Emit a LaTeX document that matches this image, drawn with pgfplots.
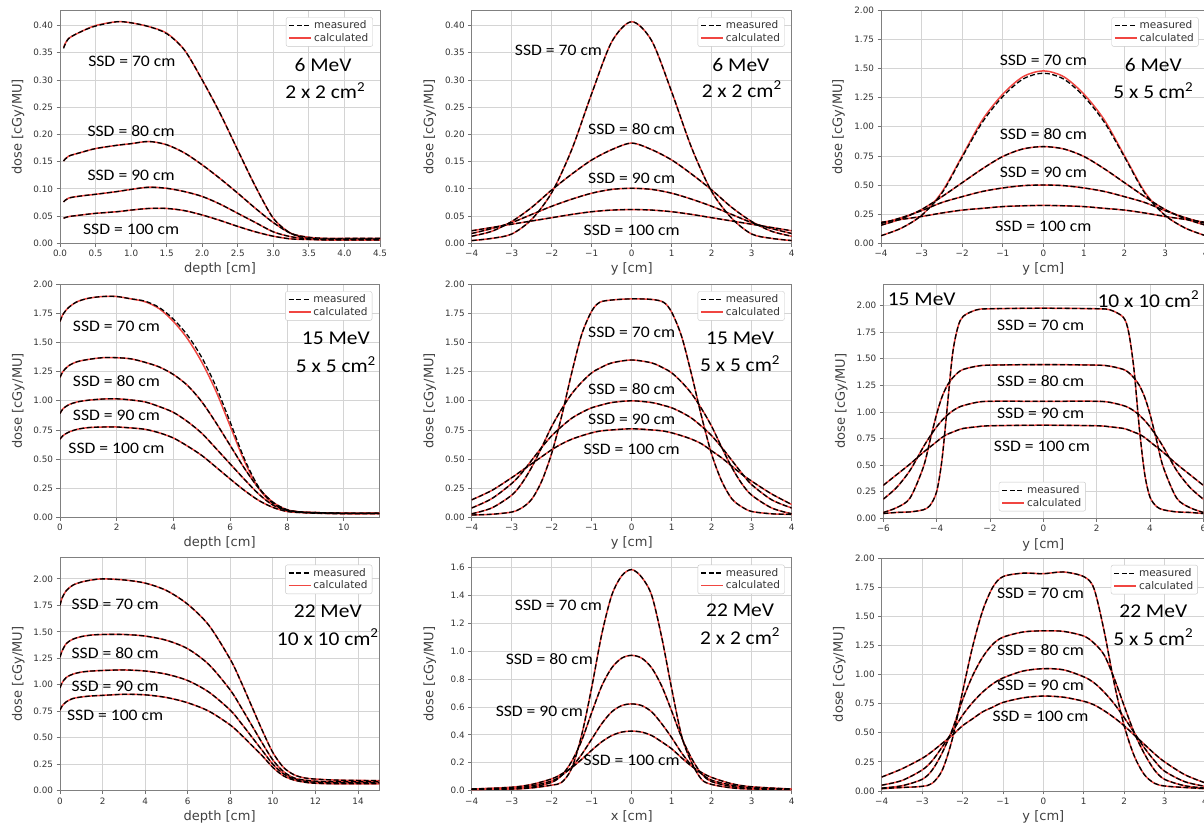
\documentclass[border=0pt]{standalone}
\usepackage{fontspec}
\setmainfont{Carlito}[FakeStretch=1.1]
\newfontfamily\dejavu{DejaVu Sans}
\usepackage{pgfplots}
\usepackage{pgfplotstable}
\pgfplotsset{compat=1.18}

\definecolor{calc}{RGB}{240,70,65}

\newcommand{\ssd}{\fontsize{16}{18}\selectfont}
\newcommand{\mev}{\fontsize{19.5}{22}\selectfont}
\newcommand{\lab}{\dejavu\fontsize{13}{15}\selectfont}
\newcommand{\sq}{\textsuperscript{2}}

% columns: x, measured SSD70, calculated SSD70, SSD80, SSD90, SSD100
\pgfplotstableread{
x s70 c70 s80 s90 s100
0.05 0.358 0.360 0.151 0.076 0.046
0.12 0.376 0.376 0.160 0.083 0.049
0.3 0.389 0.389 0.167 0.087 0.052
0.5 0.399 0.400 0.174 0.090 0.055
0.8 0.407 0.407 0.180 0.095 0.058
1.0 0.405 0.405 0.183 0.099 0.061
1.25 0.398 0.398 0.187 0.103 0.064
1.5 0.385 0.386 0.181 0.101 0.064
1.75 0.355 0.355 0.166 0.095 0.060
2.0 0.300 0.300 0.144 0.086 0.052
2.25 0.239 0.239 0.119 0.072 0.042
2.5 0.171 0.171 0.092 0.055 0.031
2.75 0.104 0.104 0.064 0.038 0.021
3.0 0.046 0.046 0.038 0.021 0.013
3.25 0.018 0.018 0.018 0.012 0.008
3.5 0.009 0.009 0.011 0.008 0.007
3.75 0.008 0.008 0.009 0.007 0.006
4.0 0.008 0.008 0.009 0.007 0.006
4.5 0.008 0.008 0.009 0.007 0.006
}\depthA

\pgfplotstableread{
x s70 c70 s80 s90 s100
-4 0.005 0.005 0.013 0.018 0.023
-3.5 0.009 0.009 0.022 0.027 0.029
-3 0.017 0.017 0.040 0.038 0.035
-2.5 0.044 0.044 0.066 0.053 0.041
-2 0.093 0.093 0.098 0.068 0.047
-1.5 0.172 0.172 0.127 0.081 0.053
-1 0.275 0.275 0.153 0.092 0.058
-0.5 0.370 0.370 0.172 0.099 0.061
0 0.407 0.407 0.184 0.101 0.062
0.5 0.372 0.372 0.172 0.099 0.061
1 0.278 0.278 0.153 0.092 0.058
1.5 0.175 0.175 0.127 0.081 0.053
2 0.095 0.095 0.098 0.068 0.047
2.5 0.046 0.046 0.066 0.053 0.041
3 0.017 0.017 0.040 0.038 0.035
3.5 0.009 0.009 0.022 0.027 0.029
4 0.005 0.005 0.013 0.018 0.023
}\profA

\pgfplotstableread{
x s70 c70 s80 s90 s100
-4 0.065 0.065 0.155 0.17 0.18
-3.5 0.13 0.13 0.21 0.22 0.205
-3 0.24 0.24 0.29 0.28 0.23
-2.5 0.43 0.44 0.40 0.35 0.26
-2 0.74 0.75 0.52 0.40 0.285
-1.5 1.04 1.06 0.64 0.445 0.30
-1 1.26 1.28 0.745 0.475 0.315
-0.5 1.41 1.43 0.81 0.495 0.322
0 1.46 1.48 0.83 0.50 0.325
0.5 1.41 1.43 0.81 0.495 0.322
1 1.26 1.28 0.745 0.475 0.315
1.5 1.04 1.06 0.64 0.445 0.30
2 0.74 0.75 0.52 0.40 0.285
2.5 0.43 0.44 0.40 0.35 0.26
3 0.24 0.24 0.29 0.28 0.23
3.5 0.13 0.13 0.21 0.22 0.205
4 0.065 0.065 0.155 0.17 0.18
}\profB

\pgfplotstableread{
x s70 c70 s80 s90 s100
0 1.68 1.68 1.20 0.89 0.67
0.1 1.74 1.74 1.25 0.93 0.70
0.3 1.80 1.80 1.30 0.965 0.73
0.6 1.85 1.85 1.335 0.99 0.755
1 1.88 1.88 1.355 1.005 0.77
1.5 1.895 1.895 1.37 1.015 0.775
2 1.895 1.895 1.37 1.017 0.775
2.5 1.875 1.875 1.36 1.007 0.767
3 1.855 1.85 1.33 0.99 0.755
3.5 1.80 1.79 1.29 0.95 0.725
4 1.70 1.68 1.225 0.90 0.68
4.5 1.56 1.53 1.13 0.82 0.61
5 1.37 1.33 0.99 0.72 0.53
5.5 1.12 1.08 0.81 0.59 0.43
6 0.815 0.78 0.615 0.457 0.328
6.5 0.50 0.48 0.42 0.325 0.23
7 0.26 0.25 0.25 0.20 0.145
7.5 0.12 0.115 0.13 0.105 0.085
8 0.06 0.06 0.065 0.06 0.05
8.5 0.045 0.045 0.045 0.045 0.04
9 0.04 0.04 0.04 0.04 0.035
10 0.035 0.035 0.035 0.035 0.03
11.25 0.035 0.035 0.035 0.035 0.03
}\depthB

\pgfplotstableread{
x s70 c70 s80 s90 s100
-4 0.02 0.02 0.03 0.08 0.15
-3.5 0.026 0.026 0.08 0.16 0.23
-3 0.045 0.045 0.19 0.29 0.34
-2.75 0.08 0.08 0.29 0.38 0.40
-2.5 0.155 0.155 0.43 0.49 0.46
-2.25 0.31 0.31 0.60 0.60 0.52
-2 0.55 0.55 0.78 0.70 0.58
-1.75 0.87 0.87 0.93 0.78 0.63
-1.5 1.24 1.24 1.06 0.85 0.67
-1.25 1.57 1.57 1.16 0.90 0.70
-1 1.77 1.77 1.24 0.94 0.725
-0.8 1.845 1.845 1.28 0.96 0.74
-0.5 1.865 1.865 1.325 0.985 0.75
0 1.875 1.875 1.35 1.00 0.76
0.5 1.87 1.87 1.325 0.985 0.75
0.8 1.845 1.845 1.28 0.96 0.74
1 1.76 1.76 1.24 0.94 0.725
1.25 1.55 1.55 1.16 0.90 0.70
1.5 1.22 1.22 1.06 0.85 0.67
1.75 0.86 0.86 0.93 0.78 0.63
2 0.54 0.54 0.78 0.70 0.57
2.25 0.31 0.31 0.60 0.60 0.51
2.5 0.16 0.16 0.43 0.49 0.44
2.75 0.09 0.09 0.29 0.38 0.37
3 0.05 0.05 0.19 0.28 0.31
3.5 0.03 0.03 0.08 0.15 0.20
4 0.025 0.025 0.03 0.08 0.11
}\profC

\pgfplotstableread{
x s70 c70 s80 s90 s100
-6 0.045 0.045 0.055 0.18 0.31
-5.5 0.055 0.055 0.10 0.29 0.41
-5 0.06 0.06 0.19 0.45 0.51
-4.5 0.08 0.08 0.48 0.67 0.62
-4.25 0.12 0.12 0.73 0.77 0.67
-4 0.25 0.25 0.98 0.86 0.72
-3.8 0.55 0.55 1.14 0.92 0.76
-3.6 1.05 1.05 1.25 0.97 0.79
-3.4 1.55 1.55 1.32 1.01 0.81
-3.2 1.80 1.80 1.37 1.04 0.83
-3 1.90 1.90 1.40 1.06 0.845
-2.5 1.96 1.96 1.43 1.09 0.86
-2 1.97 1.97 1.44 1.10 0.87
0 1.975 1.975 1.445 1.10 0.875
2 1.97 1.97 1.44 1.10 0.87
2.5 1.96 1.96 1.43 1.09 0.86
3 1.89 1.89 1.40 1.06 0.845
3.2 1.75 1.75 1.37 1.04 0.83
3.4 1.40 1.40 1.32 1.01 0.81
3.6 0.85 0.85 1.25 0.97 0.79
3.8 0.42 0.42 1.14 0.92 0.76
4 0.20 0.20 0.98 0.86 0.72
4.25 0.11 0.11 0.73 0.77 0.67
4.5 0.08 0.08 0.48 0.67 0.62
5 0.06 0.06 0.19 0.45 0.51
5.5 0.055 0.055 0.10 0.29 0.41
6 0.045 0.045 0.055 0.18 0.31
}\profD

\pgfplotstableread{
x s70 c70 s80 s90 s100
0 1.75 1.75 1.26 0.97 0.76
0.1 1.82 1.82 1.32 1.02 0.80
0.3 1.89 1.89 1.39 1.07 0.84
0.6 1.94 1.94 1.43 1.10 0.87
1 1.97 1.97 1.455 1.12 0.885
1.5 1.99 1.99 1.47 1.13 0.895
2 2.00 2.00 1.475 1.135 0.90
3 1.99 1.99 1.475 1.14 0.91
4 1.96 1.96 1.46 1.13 0.905
5 1.89 1.89 1.42 1.10 0.88
6 1.76 1.76 1.34 1.04 0.83
7 1.56 1.56 1.19 0.93 0.75
8 1.24 1.24 0.95 0.76 0.62
8.5 1.03 1.03 0.79 0.64 0.53
9 0.80 0.80 0.62 0.51 0.43
9.5 0.57 0.57 0.45 0.38 0.33
10 0.36 0.36 0.29 0.25 0.22
10.5 0.22 0.22 0.18 0.16 0.14
11 0.15 0.15 0.12 0.11 0.10
11.5 0.12 0.12 0.10 0.09 0.08
12 0.11 0.11 0.09 0.08 0.07
13 0.10 0.10 0.085 0.075 0.065
15 0.095 0.095 0.085 0.075 0.065
}\depthC

\pgfplotstableread{
x s70 c70 s80 s90 s100
-4 0.01 0.01 0.01 0.01 0.012
-3 0.012 0.012 0.013 0.018 0.025
-2.5 0.02 0.02 0.025 0.035 0.045
-2 0.04 0.04 0.06 0.07 0.085
-1.75 0.06 0.06 0.11 0.11 0.12
-1.5 0.16 0.16 0.21 0.17 0.165
-1.25 0.40 0.40 0.36 0.26 0.225
-1 0.74 0.74 0.56 0.37 0.29
-0.75 1.12 1.12 0.75 0.48 0.35
-0.5 1.40 1.40 0.88 0.565 0.395
-0.25 1.54 1.54 0.95 0.61 0.42
0 1.585 1.585 0.97 0.622 0.427
0.25 1.53 1.53 0.95 0.61 0.42
0.5 1.40 1.40 0.88 0.565 0.395
0.75 1.10 1.10 0.75 0.48 0.35
1 0.73 0.73 0.57 0.38 0.30
1.25 0.39 0.39 0.38 0.27 0.235
1.5 0.20 0.20 0.23 0.18 0.175
1.75 0.08 0.08 0.12 0.12 0.13
2 0.045 0.045 0.065 0.075 0.095
2.5 0.02 0.02 0.03 0.04 0.05
3 0.012 0.012 0.015 0.02 0.028
4 0.01 0.01 0.01 0.01 0.012
}\profE

\pgfplotstableread{
x s70 c70 s80 s90 s100
-4 0.02 0.02 0.025 0.05 0.12
-3.5 0.03 0.03 0.045 0.09 0.19
-3 0.04 0.04 0.10 0.18 0.28
-2.75 0.066 0.066 0.18 0.26 0.34
-2.5 0.18 0.18 0.33 0.38 0.41
-2.25 0.45 0.45 0.53 0.51 0.48
-2 0.85 0.85 0.78 0.65 0.56
-1.75 1.24 1.24 0.99 0.76 0.62
-1.5 1.55 1.55 1.15 0.85 0.68
-1.25 1.75 1.75 1.26 0.92 0.72
-1 1.84 1.84 1.32 0.97 0.76
-0.5 1.87 1.87 1.365 1.03 0.80
0 1.865 1.865 1.375 1.05 0.815
0.5 1.88 1.88 1.37 1.04 0.805
1 1.84 1.84 1.33 0.98 0.77
1.25 1.74 1.74 1.27 0.93 0.74
1.5 1.38 1.38 1.17 0.85 0.69
1.75 0.93 0.93 0.97 0.75 0.63
2 0.56 0.56 0.73 0.63 0.56
2.25 0.30 0.30 0.50 0.50 0.48
2.5 0.14 0.14 0.32 0.37 0.40
2.75 0.066 0.066 0.18 0.26 0.32
3 0.043 0.043 0.10 0.17 0.25
3.5 0.03 0.03 0.045 0.08 0.14
4 0.02 0.02 0.025 0.04 0.07
}\profF

\pgfplotsset{
  meas/.style={black, line width=1.3pt, dash pattern=on 5pt off 2.5pt, smooth, tension=0.5},
  calcline/.style={calc, line width=1.5pt, smooth, tension=0.5},
  panel/.style={
    scale only axis, height=233pt, clip=true,
    grid=major, major grid style={black!17, line width=0.8pt},
    axis line style={black!50, line width=0.8pt},
    tick align=outside, major tick length=3.5pt,
    tick style={black!55, line width=0.8pt},
    xtick pos=bottom, ytick pos=left,
    tick label style={font=\dejavu\fontsize{8.8}{10}\selectfont, text=black!80},
    /pgf/number format/assume math mode=true,
    scaled ticks=false,
    ymin=0,
    ylabel={dose [cGy/MU]},
    every axis y label/.style={at={(rel axis cs:-0.131,0.5)}, rotate=90, anchor=center,
      font=\lab, text=black!75},
    every axis x label/.style={at={(rel axis cs:0.5,-0.112)}, anchor=center,
      font=\lab, text=black!75},
    y tick label style={/pgf/number format/fixed, /pgf/number format/fixed zerofill, /pgf/number format/precision=2},
    legend style={at={(rel axis cs:0.978,0.97)}, anchor=north east, draw=black!22,
      rounded corners=2pt, fill=white, font=\dejavu\fontsize{10.5}{12}\selectfont,
      text=black!80, inner xsep=2.5pt, inner ysep=1.5pt, row sep=-1pt, cells={anchor=west}},
    legend image code/.code={\draw[#1] (0pt,0pt) -- (22pt,0pt);},
  },
}

\newcommand{\curves}[1]{%
  \addlegendimage{meas}\addlegendentry{measured}
  \addlegendimage{calcline}\addlegendentry{calculated}
  \addplot[calcline, forget plot] table[x=x, y=c70] {#1};
  \addplot[calcline, forget plot] table[x=x, y=s80] {#1};
  \addplot[calcline, forget plot] table[x=x, y=s90] {#1};
  \addplot[calcline, forget plot] table[x=x, y=s100] {#1};
  \addplot[meas, forget plot] table[x=x, y=s70] {#1};
  \addplot[meas, forget plot] table[x=x, y=s80] {#1};
  \addplot[meas, forget plot] table[x=x, y=s90] {#1};
  \addplot[meas, forget plot] table[x=x, y=s100] {#1};
}

\newcommand{\profticks}{xtick={-4,-3,-2,-1,0,1,2,3,4}, xticklabels={−4,−3,−2,−1,0,1,2,3,4}}
\newcommand{\doseticks}{ytick={0,0.25,0.5,0.75,1,1.25,1.5,1.75,2}}

\begin{document}
\begin{tikzpicture}[x=1pt,y=1pt]
\useasboundingbox (0,0) rectangle (1204,829);

% row 1
\begin{axis}[panel, at={(60pt,585.7pt)}, anchor=south west, width=320pt,
  xmin=0, xmax=4.5, ymax=0.428, xlabel={depth [cm]},
  xtick={0,0.5,1,1.5,2,2.5,3,3.5,4,4.5},
  x tick label style={/pgf/number format/fixed, /pgf/number format/fixed zerofill, /pgf/number format/precision=1},
  ytick={0,0.05,0.1,0.15,0.2,0.25,0.3,0.35,0.4}]
\curves{\depthA}
\node[font=\ssd] at (axis cs:1.01,0.335) {SSD = 70 cm};
\node[font=\ssd] at (axis cs:1.0,0.207) {SSD = 80 cm};
\node[font=\ssd] at (axis cs:1.0,0.124) {SSD = 90 cm};
\node[font=\ssd] at (axis cs:1.0,0.026) {SSD = 100 cm};
\node[font=\mev] at (axis cs:3.70,0.327) {6 MeV};
\node[font=\mev] at (axis cs:3.73,0.280) {2 x 2 cm\sq};
\end{axis}

\begin{axis}[panel, at={(471.7pt,585.7pt)}, anchor=south west, width=320pt,
  xmin=-4, xmax=4, ymax=0.428, xlabel={y [cm]}, \profticks,
  ytick={0,0.05,0.1,0.15,0.2,0.25,0.3,0.35,0.4}]
\curves{\profA}
\node[font=\ssd] at (axis cs:-1.83,0.354) {SSD = 70 cm};
\node[font=\ssd] at (axis cs:0,0.209) {SSD = 80 cm};
\node[font=\ssd] at (axis cs:0,0.119) {SSD = 90 cm};
\node[font=\ssd] at (axis cs:0,0.024) {SSD = 100 cm};
\node[font=\mev] at (axis cs:2.73,0.327) {6 MeV};
\node[font=\mev] at (axis cs:2.75,0.283) {2 x 2 cm\sq};
\end{axis}

\begin{axis}[panel, at={(881pt,585.7pt)}, anchor=south west, width=324.7pt,
  xmin=-4, xmax=4, ymax=2.0, xlabel={y [cm]}, \profticks, \doseticks]
\curves{\profB}
\node[font=\ssd] at (axis cs:0,1.57) {SSD = 70 cm};
\node[font=\ssd] at (axis cs:0,0.937) {SSD = 80 cm};
\node[font=\ssd] at (axis cs:0,0.606) {SSD = 90 cm};
\node[font=\ssd] at (axis cs:0,0.149) {SSD = 100 cm};
\node[font=\mev] at (axis cs:2.71,1.53) {6 MeV};
\node[font=\mev] at (axis cs:2.71,1.31) {5 x 5 cm\sq};
\end{axis}

% row 2
\begin{axis}[panel, at={(60pt,311.7pt)}, anchor=south west, width=319.3pt,
  xmin=0, xmax=11.25, ymax=2.0, xlabel={depth [cm]},
  xtick={0,2,4,6,8,10}, \doseticks]
\curves{\depthB}
\node[font=\ssd] at (axis cs:1.99,1.637) {SSD = 70 cm};
\node[font=\ssd] at (axis cs:1.99,1.17) {SSD = 80 cm};
\node[font=\ssd] at (axis cs:1.99,0.873) {SSD = 90 cm};
\node[font=\ssd] at (axis cs:1.99,0.592) {SSD = 100 cm};
\node[font=\mev] at (axis cs:9.72,1.536) {15 MeV};
\node[font=\mev] at (axis cs:9.72,1.31) {5 x 5 cm\sq};
\end{axis}

\begin{axis}[panel, at={(471.7pt,311.7pt)}, anchor=south west, width=320pt,
  xmin=-4, xmax=4, ymax=2.0, xlabel={y [cm]}, \profticks, \doseticks]
\curves{\profC}
\node[font=\ssd] at (axis cs:0,1.588) {SSD = 70 cm};
\node[font=\ssd] at (axis cs:0,1.10) {SSD = 80 cm};
\node[font=\ssd] at (axis cs:0,0.844) {SSD = 90 cm};
\node[font=\ssd] at (axis cs:0,0.587) {SSD = 100 cm};
\node[font=\mev] at (axis cs:2.71,1.536) {15 MeV};
\node[font=\mev] at (axis cs:2.71,1.32) {5 x 5 cm\sq};
\end{axis}

\begin{axis}[panel, at={(883.3pt,310.7pt)}, anchor=south west, width=320pt, height=234pt,
  xmin=-6, xmax=6, ymax=2.2, xlabel={y [cm]},
  xtick={-6,-4,-2,0,2,4,6}, xticklabels={−6,−4,−2,0,2,4,6}, \doseticks,
  legend style={at={(rel axis cs:0.497,0.03)}, anchor=south}]
\curves{\profD}
\node[font=\ssd] at (axis cs:-0.1,1.81) {SSD = 70 cm};
\node[font=\ssd] at (axis cs:-0.1,1.29) {SSD = 80 cm};
\node[font=\ssd] at (axis cs:-0.1,0.987) {SSD = 90 cm};
\node[font=\ssd] at (axis cs:-0.05,0.68) {SSD = 100 cm};
\node[font=\mev] at (axis cs:-4.56,2.06) {15 MeV};
\node[font=\mev] at (axis cs:3.94,2.06) {10 x 10 cm\sq};
\end{axis}

% row 3
\begin{axis}[panel, at={(60pt,38.3pt)}, anchor=south west, width=319.3pt,
  xmin=0, xmax=15, ymax=2.2, xlabel={depth [cm]},
  xtick={0,2,4,6,8,10,12,14}, \doseticks]
\curves{\depthC}
\node[font=\ssd] at (axis cs:2.59,1.757) {SSD = 70 cm};
\node[font=\ssd] at (axis cs:2.59,1.30) {SSD = 80 cm};
\node[font=\ssd] at (axis cs:2.59,0.986) {SSD = 90 cm};
\node[font=\ssd] at (axis cs:2.59,0.709) {SSD = 100 cm};
\node[font=\mev] at (axis cs:12.58,1.694) {22 MeV};
\node[font=\mev] at (axis cs:12.58,1.452) {10 x 10 cm\sq};
\end{axis}

\begin{axis}[panel, at={(471.7pt,38.3pt)}, anchor=south west, width=320pt,
  xmin=-4, xmax=4, ymax=1.67, xlabel={x [cm]}, \profticks,
  ytick={0,0.2,0.4,0.6,0.8,1.0,1.2,1.4,1.6},
  y tick label style={/pgf/number format/precision=1}]
\curves{\profE}
\node[font=\ssd] at (axis cs:-1.83,1.328) {SSD = 70 cm};
\node[font=\ssd] at (axis cs:-2.06,0.943) {SSD = 80 cm};
\node[font=\ssd] at (axis cs:-2.31,0.570) {SSD = 90 cm};
\node[font=\ssd] at (axis cs:0,0.221) {SSD = 100 cm};
\node[font=\mev] at (axis cs:2.71,1.292) {22 MeV};
\node[font=\mev] at (axis cs:2.71,1.107) {2 x 2 cm\sq};
\end{axis}

\begin{axis}[panel, at={(881.7pt,38pt)}, anchor=south west, width=323.3pt,
  xmin=-4, xmax=4, ymax=2.0, xlabel={y [cm]}, \profticks, \doseticks]
\curves{\profF}
\node[font=\ssd] at (axis cs:-0.07,1.693) {SSD = 70 cm};
\node[font=\ssd] at (axis cs:-0.07,1.212) {SSD = 80 cm};
\node[font=\ssd] at (axis cs:-0.07,0.903) {SSD = 90 cm};
\node[font=\ssd] at (axis cs:-0.07,0.639) {SSD = 100 cm};
\node[font=\mev] at (axis cs:2.72,1.54) {22 MeV};
\node[font=\mev] at (axis cs:2.72,1.32) {5 x 5 cm\sq};
\end{axis}
\end{tikzpicture}
\end{document}
